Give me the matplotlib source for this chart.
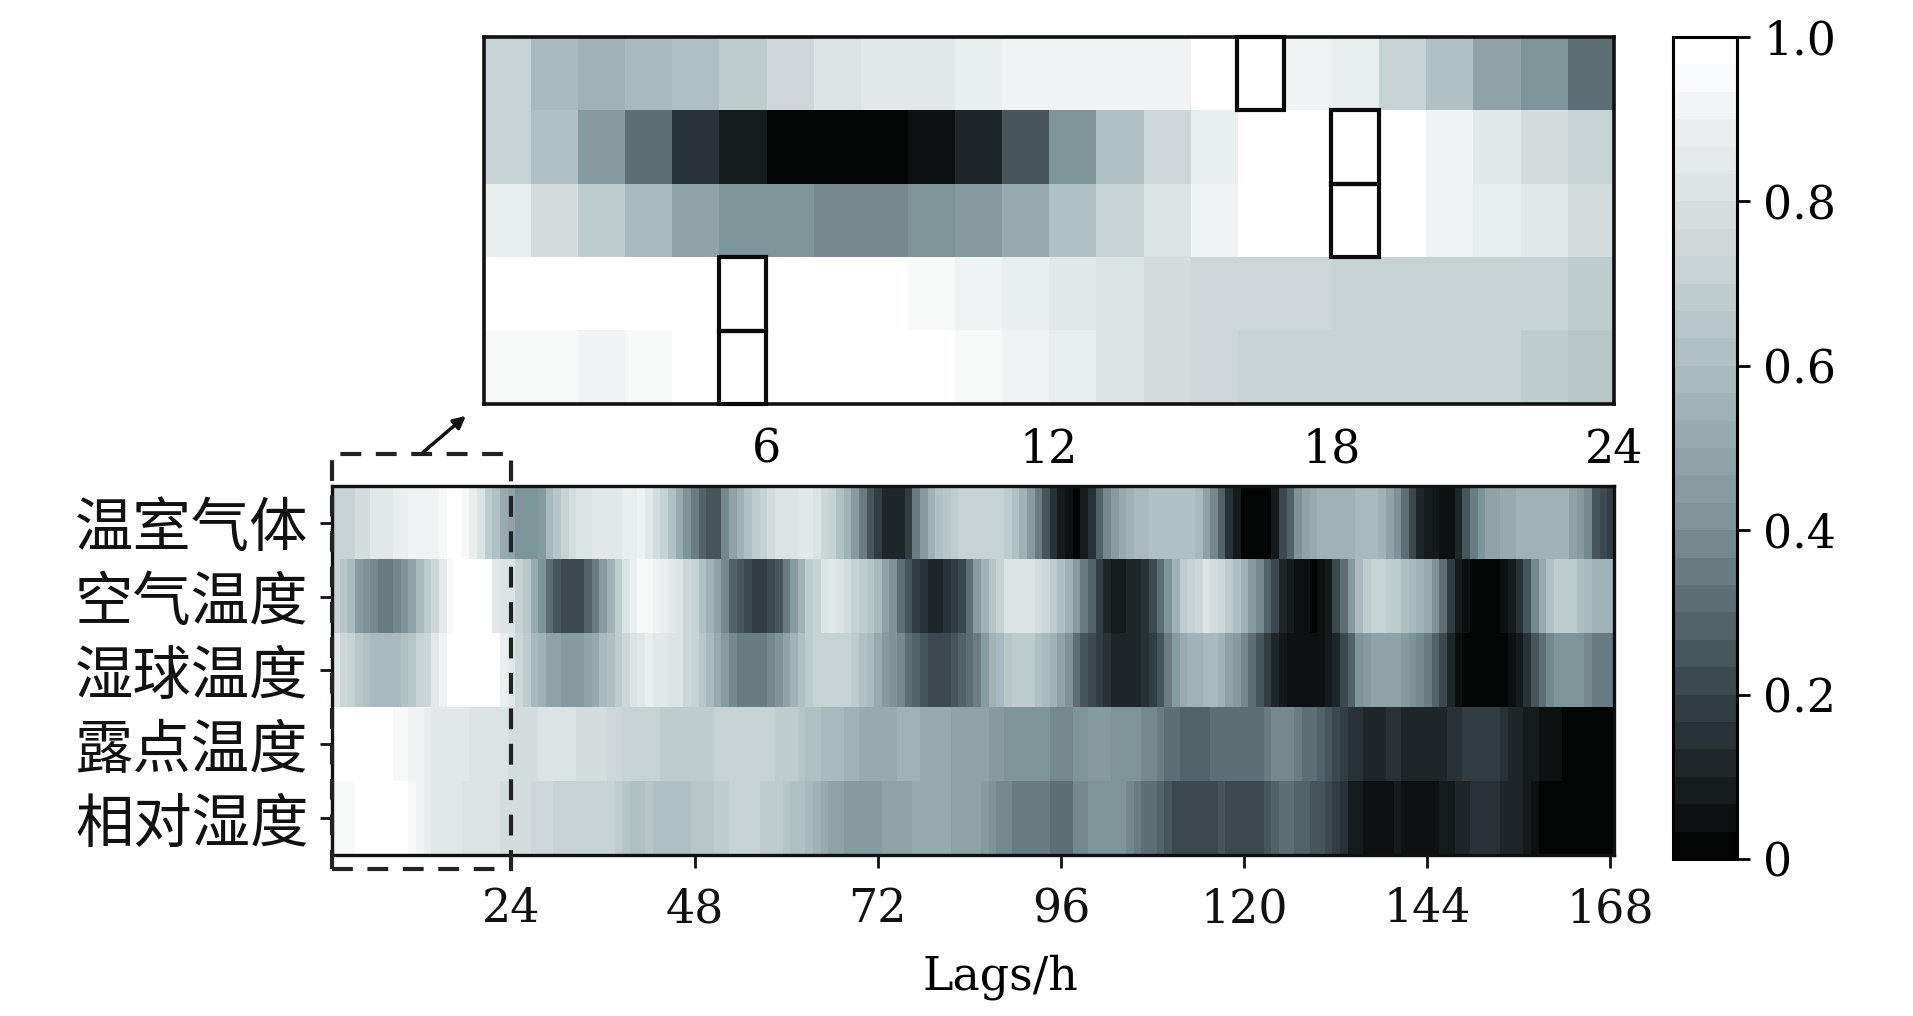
import matplotlib
matplotlib.use("Agg")
import matplotlib.pyplot as plt
import matplotlib.patches as patches
import matplotlib.transforms as mtrans
from matplotlib.colors import LinearSegmentedColormap, Normalize
from matplotlib.colorbar import ColorbarBase
import numpy as np

# 行名
features = ["温室气体", "空气温度", "湿球温度", "露点温度", "相对湿度"]

# 主图: lag 1..168
ghg = [0.71, 0.71, 0.73, 0.77, 0.78, 0.84, 0.86, 0.86, 0.87, 0.89,
       0.90, 0.92, 0.93, 0.93, 0.96, 1.00, 1.00, 0.95, 0.89, 0.80,
       0.68, 0.62, 0.52, 0.49, 0.43, 0.41, 0.41, 0.46, 0.57, 0.64,
       0.73, 0.78, 0.80, 0.81, 0.84, 0.84, 0.86, 0.86, 0.87, 0.89,
       0.90, 0.86,
       0.78, 0.73, 0.62, 0.52, 0.41, 0.35, 0.28, 0.25, 0.26, 0.37,
       0.47, 0.55, 0.62, 0.69, 0.73, 0.77, 0.80, 0.81, 0.82, 0.84,
       0.84, 0.81, 0.76, 0.71, 0.63, 0.55, 0.44, 0.34, 0.25, 0.18,
       0.13, 0.10, 0.10, 0.18, 0.34, 0.45, 0.54, 0.60, 0.64, 0.68,
       0.70, 0.71,
       0.73, 0.72, 0.71, 0.71, 0.69, 0.62, 0.54, 0.46, 0.36, 0.26,
       0.15, 0.08, 0.05, 0.03, 0.08, 0.15, 0.27, 0.37, 0.46, 0.53,
       0.55, 0.57, 0.59, 0.61, 0.62, 0.62, 0.63, 0.62, 0.62, 0.58,
       0.49, 0.39, 0.27, 0.15, 0.09, 0.03, 0.01, 0.01, 0.03, 0.09,
       0.20, 0.29,
       0.41, 0.48, 0.52, 0.54, 0.54, 0.55, 0.55, 0.56, 0.57, 0.58,
       0.58, 0.56, 0.49, 0.41, 0.31, 0.20, 0.12, 0.08, 0.07, 0.05,
       0.05, 0.12, 0.24, 0.35, 0.43, 0.47, 0.49, 0.52, 0.53, 0.54,
       0.54, 0.55, 0.56, 0.56, 0.55, 0.54, 0.49, 0.45, 0.37, 0.26,
       0.22, 0.19]

air_temp = [0.73, 0.64, 0.57, 0.46, 0.41, 0.37, 0.36, 0.36, 0.38, 0.43,
            0.49, 0.58, 0.67, 0.76, 0.84, 0.95, 1.00, 1.00, 1.00, 1.00,
            0.97, 0.86, 0.80, 0.81, 0.73, 0.64, 0.52, 0.41, 0.31, 0.26,
            0.23, 0.22, 0.22, 0.27, 0.35, 0.45, 0.56, 0.69, 0.81, 0.89,
            0.95, 0.96,
            0.93, 0.89, 0.84, 0.82, 0.76, 0.70, 0.63, 0.55, 0.47, 0.37,
            0.28, 0.24, 0.20, 0.18, 0.18, 0.20, 0.25, 0.35, 0.46, 0.56,
            0.67, 0.73, 0.81, 0.84, 0.82, 0.78, 0.72, 0.69, 0.64, 0.58,
            0.48, 0.41, 0.33, 0.26, 0.18, 0.14, 0.12, 0.12, 0.14, 0.18,
            0.22, 0.31,
            0.46, 0.55, 0.64, 0.73, 0.80, 0.81, 0.81, 0.80, 0.77, 0.74,
            0.68, 0.62, 0.54, 0.46, 0.36, 0.28, 0.18, 0.12, 0.08, 0.09,
            0.12, 0.12, 0.15, 0.22, 0.31, 0.43, 0.56, 0.68, 0.73, 0.76,
            0.80, 0.78, 0.76, 0.69, 0.60, 0.54, 0.46, 0.38, 0.29, 0.20,
            0.12, 0.08,
            0.05, 0.04, 0.03, 0.05, 0.08, 0.20, 0.33, 0.46, 0.59, 0.69,
            0.71, 0.71, 0.69, 0.67, 0.62, 0.58, 0.55, 0.52, 0.43, 0.31,
            0.18, 0.07, 0.04, 0.03, 0.01, 0.01, 0.02, 0.04, 0.08, 0.14,
            0.26, 0.39, 0.52, 0.62, 0.68, 0.69, 0.67, 0.62, 0.59, 0.56,
            0.55, 0.54]

wet_bulb = [0.86, 0.76, 0.71, 0.64, 0.61, 0.58, 0.57, 0.57, 0.59, 0.62,
            0.65, 0.70, 0.76, 0.84, 0.92, 0.98, 1.00, 1.00, 1.00, 1.00,
            1.00, 0.97, 0.89, 0.84, 0.76, 0.67, 0.59, 0.54, 0.49, 0.47,
            0.46, 0.45, 0.45, 0.47, 0.52, 0.58, 0.63, 0.69, 0.76, 0.82,
            0.86, 0.87,
            0.86, 0.85, 0.81, 0.80, 0.74, 0.71, 0.64, 0.59, 0.53, 0.45,
            0.39, 0.36, 0.35, 0.34, 0.34, 0.37, 0.42, 0.47, 0.54, 0.60,
            0.67, 0.71, 0.73, 0.73, 0.73, 0.71, 0.67, 0.62, 0.57, 0.52,
            0.46, 0.43, 0.39, 0.33, 0.27, 0.24, 0.21, 0.20, 0.23, 0.26,
            0.29, 0.31,
            0.36, 0.46, 0.55, 0.59, 0.64, 0.68, 0.68, 0.67, 0.62, 0.59,
            0.54, 0.47, 0.41, 0.33, 0.26, 0.22, 0.19, 0.15, 0.12, 0.13,
            0.12, 0.12, 0.14, 0.17, 0.24, 0.35, 0.46, 0.52, 0.55, 0.56,
            0.57, 0.57, 0.55, 0.49, 0.44, 0.39, 0.33, 0.26, 0.19, 0.12,
            0.07, 0.05,
            0.05, 0.04, 0.04, 0.05, 0.07, 0.12, 0.20, 0.27, 0.41, 0.45,
            0.47, 0.48, 0.48, 0.47, 0.45, 0.43, 0.39, 0.35, 0.29, 0.22,
            0.11, 0.05, 0.03, 0.02, 0.01, 0.01, 0.02, 0.03, 0.05, 0.09,
            0.15, 0.24, 0.33, 0.39, 0.41, 0.42, 0.41, 0.40, 0.38, 0.36,
            0.35, 0.34]

dew_point = [1.00, 1.00, 1.00, 1.00, 1.00, 1.00, 1.00, 0.97, 0.96, 0.95,
             0.92, 0.90, 0.89, 0.86, 0.85, 0.84, 0.84, 0.84, 0.82, 0.82,
             0.82, 0.81, 0.80, 0.78, 0.78, 0.78, 0.78, 0.80, 0.80, 0.80,
             0.80, 0.80, 0.78, 0.78, 0.77, 0.77, 0.76, 0.74, 0.73, 0.72,
             0.71, 0.71,
             0.70, 0.69, 0.68, 0.67, 0.67, 0.67, 0.68, 0.68, 0.70, 0.72,
             0.73, 0.73, 0.72, 0.72, 0.71, 0.71, 0.69, 0.68, 0.67, 0.64,
             0.62, 0.60, 0.58, 0.58, 0.57, 0.56, 0.54, 0.53, 0.52, 0.52,
             0.52, 0.53, 0.54, 0.54, 0.54, 0.53, 0.52, 0.52, 0.50, 0.49,
             0.49, 0.48,
             0.49, 0.47, 0.45, 0.44, 0.43, 0.41, 0.41, 0.41, 0.41, 0.40,
             0.38, 0.37, 0.38, 0.41, 0.43, 0.44, 0.44, 0.44, 0.43, 0.42,
             0.41, 0.40, 0.38, 0.37, 0.35, 0.33, 0.31, 0.29, 0.28, 0.28,
             0.29, 0.31, 0.32, 0.32, 0.32, 0.31, 0.31, 0.33, 0.35, 0.37,
             0.38, 0.37,
             0.35, 0.33, 0.31, 0.28, 0.26, 0.22, 0.18, 0.15, 0.14, 0.13,
             0.13, 0.13, 0.14, 0.14, 0.13, 0.13, 0.12, 0.13, 0.13, 0.12,
             0.14, 0.16, 0.18, 0.18, 0.18, 0.18, 0.18, 0.14, 0.12, 0.10,
             0.08, 0.07, 0.05, 0.05, 0.04, 0.03, 0.03, 0.03, 0.03, 0.02,
             0.02, 0.02]

rel_hum = [0.96, 0.96, 0.96, 0.97, 1.00, 1.00, 1.00, 1.00, 1.00, 1.00,
           0.95, 0.92, 0.89, 0.86, 0.86, 0.85, 0.84, 0.82, 0.82, 0.81,
           0.81, 0.80, 0.78, 0.77, 0.77, 0.77, 0.76, 0.74, 0.74, 0.73,
           0.73, 0.73, 0.73, 0.73, 0.72, 0.72, 0.71, 0.69, 0.64, 0.63,
           0.63, 0.64,
           0.62, 0.62, 0.62, 0.62, 0.63, 0.64, 0.64, 0.65, 0.67, 0.69,
           0.70, 0.70, 0.70, 0.70, 0.69, 0.69, 0.67, 0.64, 0.62, 0.60,
           0.57, 0.54, 0.52, 0.49, 0.47, 0.46, 0.46, 0.45, 0.45, 0.46,
           0.47, 0.48, 0.48, 0.49, 0.50, 0.52, 0.52, 0.52, 0.50, 0.49,
           0.48, 0.47,
           0.47, 0.45, 0.41, 0.39, 0.37, 0.35, 0.35, 0.35, 0.35, 0.34,
           0.33, 0.31, 0.33, 0.37, 0.39, 0.40, 0.41, 0.41, 0.41, 0.40,
           0.38, 0.36, 0.33, 0.31, 0.27, 0.24, 0.22, 0.20, 0.20, 0.21,
           0.20, 0.22, 0.24, 0.23, 0.22, 0.22, 0.20, 0.20, 0.25, 0.29,
           0.33, 0.31,
           0.29, 0.27, 0.26, 0.24, 0.22, 0.18, 0.14, 0.09, 0.07, 0.06,
           0.05, 0.06, 0.06, 0.07, 0.06, 0.05, 0.05, 0.06, 0.06, 0.07,
           0.08, 0.11, 0.12, 0.15, 0.15, 0.15, 0.15, 0.12, 0.12, 0.11,
           0.07, 0.05, 0.03, 0.02, 0.01, 0.01, 0.01, 0.01, 0.01, 0.01,
           0.01, 0.01]

# 放大图: lag 1..24
ghg_24 = [0.73, 0.57, 0.54, 0.57, 0.60, 0.68, 0.76, 0.81, 0.84, 0.85, 0.87, 0.92,
          0.93, 0.92, 0.93, 1.00, 1.00, 0.93, 0.88, 0.73, 0.60, 0.47, 0.40, 0.30]
air_24 = [0.70, 0.60, 0.45, 0.31, 0.15, 0.08, 0.03, 0.03, 0.03, 0.05, 0.11, 0.26,
          0.43, 0.60, 0.75, 0.88, 0.97, 1.00, 1.00, 0.97, 0.92, 0.86, 0.78, 0.72]
wet_24 = [0.89, 0.78, 0.69, 0.58, 0.49, 0.43, 0.40, 0.37, 0.37, 0.40, 0.46, 0.52,
          0.62, 0.71, 0.83, 0.91, 0.97, 1.00, 1.00, 1.00, 0.93, 0.89, 0.84, 0.78]
dew_24 = [1.00, 0.98, 0.98, 0.98, 1.00, 1.00, 1.00, 0.98, 0.98, 0.95, 0.92, 0.89,
          0.86, 0.82, 0.78, 0.76, 0.76, 0.76, 0.73, 0.73, 0.73, 0.73, 0.70, 0.67]
rh_24 = [0.95, 0.95, 0.92, 0.95, 1.00, 1.00, 1.00, 1.00, 1.00, 0.98, 0.95, 0.92,
         0.87, 0.82, 0.79, 0.76, 0.72, 0.70, 0.70, 0.70, 0.70, 0.70, 0.67, 0.65]

# 最大值所在 (lag, 行号)
max_cells = [(17, 0), (19, 1), (19, 2), (6, 3), (6, 4)]

main_ticks = [24, 48, 72, 96, 120, 144, 168]
inset_ticks = [6, 12, 18, 24]
cbar_ticks = [0, 0.2, 0.4, 0.6, 0.8, 1.0]
cbar_labels = ["0", "0.2", "0.4", "0.6", "0.8", "1.0"]

data = np.array([ghg, air_temp, wet_bulb, dew_point, rel_hum])
data24 = np.array([ghg_24, air_24, wet_24, dew_24, rh_24])

cmap = LinearSegmentedColormap.from_list(
    "bluegray",
    [(0.0, "#030505"), (0.2, "#3a464c"), (0.4, "#7a9196"),
     (0.6, "#adbdc0"), (0.8, "#d6dfe0"), (1.0, "#ffffff")], N=30)
norm = Normalize(0, 1)

num_font = "DejaVu Serif"
cjk_font = ["Noto Sans CJK SC", "DejaVu Sans"]
fs = 33

fig = plt.figure(figsize=(19.13, 10.16), dpi=100)

# ---- 主图
ax = fig.add_axes([0.1736, 0.1585, 0.6702, 0.3632])
nlag = data.shape[1]
ax.imshow(data, cmap=cmap, norm=norm, aspect="auto", interpolation="nearest",
          extent=(0.5, nlag + 0.5, len(features) - 0.5, -0.5))
ax.set_xlim(0.5, nlag + 0.5)
ax.set_xticks(main_ticks)
ax.set_xticklabels([str(t) for t in main_ticks], fontsize=fs, family=num_font)
ax.set_yticks(range(len(features)))
ax.set_yticklabels(features, fontsize=42, family=cjk_font)
ax.tick_params(axis="both", direction="out", length=9, width=2, colors="#111111")
ax.tick_params(axis="x", pad=14)
ax.tick_params(axis="y", pad=8)
for s in ax.spines.values():
    s.set_linewidth(2.4)
    s.set_color("#111111")

# 虚线框 (lag 0.5 ~ 24)
trans = mtrans.blended_transform_factory(ax.transData, ax.transAxes)
dash_box = patches.Rectangle((0.5, -0.038), 23.5, 1.125, transform=trans,
                             fill=False, ec="#222222", lw=3, ls=(0, (5, 3.5)),
                             clip_on=False, zorder=5)
ax.add_patch(dash_box)

fig.text(1000 / 1913, 0.038, "Lags/h", ha="center", va="center",
         fontsize=fs, family=num_font)

# ---- 放大图
axi = fig.add_axes([0.2530, 0.6024, 0.5907, 0.3612])
axi.imshow(data24, cmap=cmap, norm=norm, aspect="auto", interpolation="nearest",
           extent=(0, data24.shape[1], len(features), 0))
axi.set_xticks(inset_ticks)
axi.set_xticklabels([str(t) for t in inset_ticks], fontsize=fs, family=num_font)
axi.set_yticks([])
axi.tick_params(axis="x", length=0, pad=17)
for s in axi.spines.values():
    s.set_linewidth(2.6)
    s.set_color("#111111")
for lag, row in max_cells:
    axi.add_patch(patches.Rectangle((lag - 1, row), 1, 1, fill=False,
                                    ec="#0a0a0a", lw=3, clip_on=False, zorder=4))

# 箭头
fig.add_artist(patches.FancyArrowPatch(
    (421 / 1913, 1 - 454 / 1016), (468 / 1913, 1 - 414 / 1016),
    transform=fig.transFigure, arrowstyle="-|>", mutation_scale=18,
    lw=2.5, color="#111111"))

# ---- 色标
cax = fig.add_axes([0.8745, 0.1545, 0.0335, 0.8090])
cb = ColorbarBase(cax, cmap=cmap, norm=norm, orientation="vertical")
cb.set_ticks(cbar_ticks)
cb.set_ticklabels(cbar_labels)
cax.tick_params(length=9, width=2, pad=10, labelsize=fs)
for lab in cax.get_yticklabels():
    lab.set_family(num_font)
cb.outline.set_linewidth(2.2)

fig.savefig("out.png", dpi=100)
